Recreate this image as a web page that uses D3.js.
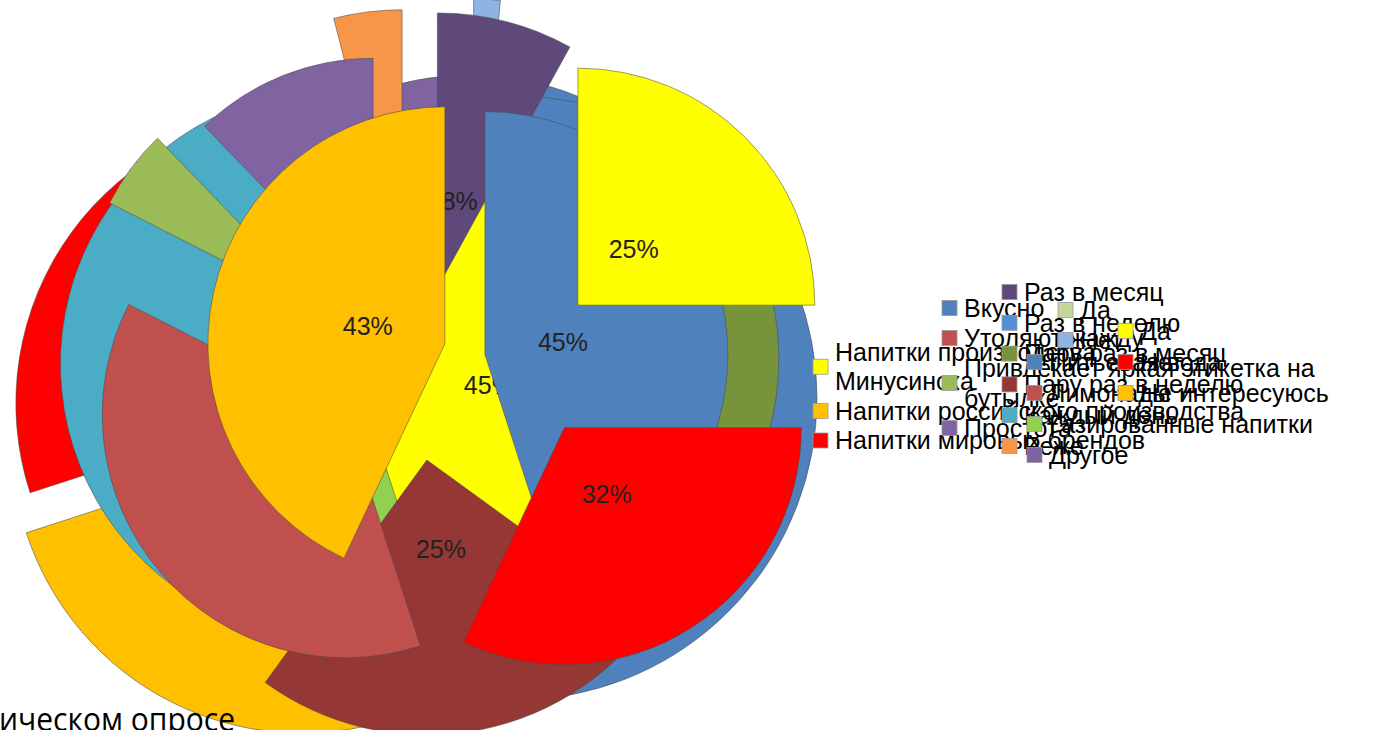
<!DOCTYPE html>
<html lang="ru">
<head>
<meta charset="UTF-8" />
<title>Опрос</title>
<script src="https://d3js.org/d3.v7.min.js"></script>
<style>
  body { margin: 0; background: #fff; overflow: hidden; }
  svg { display: block; }
  .lbl { font-family: "Liberation Sans", Arial, sans-serif; font-size: 25px; fill: #222; }
  .leg { font-family: "Liberation Sans", Arial, sans-serif; font-size: 25px; fill: #000; }
  .foot { font-family: "Open Sans", "DejaVu Sans", sans-serif; font-size: 32px; fill: #000; }
</style>
</head>
<body>
<script>
// --- chart data (pie order, clockwise from 12 o'clock) ---

// Какие напитки покупаете
const drinkNames = ["Напитки производства Минусинска", "Напитки мировых брендов", "Напитки российского производства"];
const drinkValues = [25, 32, 43];
const drinkLabels = ["25%", "32%", "43%"];

// Почему выбираете
const reasonNames = ["Вкусно", "Утоляют жажду", "Привлекает яркая этикетка на бутылке", "Простота"];
const reasonValues = [45, 37.5, 5.3, 12.2];
const reasonLabels = ["45%", "", "", ""];

// Как часто
const freqNames = ["Раз в месяц", "Пару раз в месяц", "Пару раз в неделю", "Каждый день", "Не покупаю"];
const freqValues = [8, 27, 25, 36, 4];
const freqLabels = ["8%", "", "25%", "", ""];

// Да / Нет
const yesNames = ["Да", "Не интересуюсь", "Нет"];
const yesValues = [45, 25, 30];
const yesLabels = ["45%", "", ""];

// charts hidden at the back
const kindNames = ["Питьевая вода", "Газированные напитки", "Лимонады", "Другое"];
const kindValues = [47, 28, 15, 10];
const backNames = ["Нет", "Да", "Газированные напитки", "Другое"];
const backValues = [1.5, 10, 82.5, 6];

// --- legend texts ---
const legDrink = [["Напитки  производства", "Минусинска"], ["Напитки российского производства"], ["Напитки мировых брендов"]];
const legReason = [["Вкусно"], ["Утоляют жажду"], ["Привлекает яркая этикетка на", "бутылке"], ["Простота"]];
const legFreq = [["Раз в месяц"], ["Раз в неделю"], ["Пару раз в месяц"], ["Пару раз в неделю"], ["Каждый день"], ["Реже"]];
const legKind = [["Питьевая вода"], ["Лимонады"], ["Газированные напитки"], ["Другое"]];
const legBack = [["Да"], ["Нет"]];
const legYes = [["Да"], ["Нет"], ["Не интересуюсь"]];

// --- styles ---
const drinkColors = ["#FFFF00", "#FF0000", "#FFC000"];
const reasonColors = ["#4F81BD", "#C0504D", "#9BBB59", "#8064A2"];
const freqColors = ["#5F497A", "#77933C", "#953735", "#4BACC6", "#F79646"];
const yesColors = ["#FFFF00", "#FFC000", "#FF0000"];
const kindColors = ["#4F81BD", "#92D050", "#C0504D", "#8064A2"];
const backColors = ["#8EB4E3", "#4F81BD", "#92D050", "#8064A2"];

const W = 1379, H = 730;
const svg = d3.select("body").append("svg").attr("width", W).attr("height", H);

// back to front
const charts = [
  { names: backNames, values: backValues, colors: backColors, labels: null, cx: 470, cy: 360, r: 285, explode: [76, 0, 0, 0], labelR: 0 },
  { names: kindNames, values: kindValues, colors: kindColors, labels: null, cx: 515, cy: 398, r: 302, explode: [0, 0, 0, 0], labelR: 0 },
  { names: yesNames, values: yesValues, colors: yesColors, labels: yesLabels, cx: 318, cy: 412, r: 290, explode: [48, 35, 15], labelR: 125 },
  { names: freqNames, values: freqValues, colors: freqColors, labels: freqLabels, cx: 414, cy: 379, r: 275, explode: [94, 92, 82, 80, 95], labelR: 90 },
  { names: reasonNames, values: reasonValues, colors: reasonColors, labels: reasonLabels, cx: 400, cy: 368, r: 243, explode: [86, 72, 92, 72], labelR: 79 },
  { names: drinkNames, values: drinkValues, colors: drinkColors, labels: drinkLabels, cx: 522, cy: 361, r: 237, explode: [79, 79, 79], labelR: 79 }
];

function drawPie(c) {
  const rows = c.values.map((v, i) => ({
    value: v, name: c.names[i], color: c.colors[i],
    label: c.labels ? c.labels[i] : "", ex: c.explode[i]
  }));
  const arcs = d3.pie().sort(null).value(d => d.value)(rows);
  const arc = d3.arc().innerRadius(0).outerRadius(c.r);
  const labelArc = d3.arc().innerRadius(c.labelR).outerRadius(c.labelR);
  const shift = d => {
    const a = (d.startAngle + d.endAngle) / 2;
    return [Math.sin(a) * d.data.ex, -Math.cos(a) * d.data.ex];
  };
  const g = svg.append("g").attr("transform", `translate(${c.cx},${c.cy})`);
  g.selectAll("path").data(arcs).join("path")
    .attr("transform", d => `translate(${shift(d)})`)
    .attr("d", arc)
    .attr("fill", d => d.data.color)
    .attr("stroke", "#4a4a4a")
    .attr("stroke-opacity", 0.55)
    .attr("stroke-width", 1);
  g.selectAll("text").data(arcs.filter(d => d.data.label)).join("text")
    .attr("class", "lbl")
    .attr("transform", d => {
      const s = shift(d), p = labelArc.centroid(d);
      return `translate(${s[0] + p[0]},${s[1] + p[1]})`;
    })
    .attr("text-anchor", "middle")
    .attr("dy", "0.35em")
    .text(d => d.data.label);
}

charts.forEach(drawPie);

function drawLegend(items, colors, x, y0, step) {
  const g = svg.append("g");
  let line = 0;
  items.forEach((lines, i) => {
    const yc = y0 + (line + (lines.length - 1) / 2) * step;
    g.append("rect")
      .attr("x", x).attr("y", yc - 7.5)
      .attr("width", 15).attr("height", 15)
      .attr("fill", colors[i])
      .attr("stroke", "#999").attr("stroke-width", 0.8);
    lines.forEach((t, k) => {
      g.append("text").attr("class", "leg")
        .attr("x", x + 22).attr("y", y0 + (line + k) * step)
        .attr("dy", "0.35em")
        .text(t);
    });
    line += lines.length;
  });
}

drawLegend(legDrink, ["#FFFF00", "#FFC000", "#FF0000"], 813, 352, 29.5);
drawLegend(legReason, reasonColors, 942, 308, 30);
drawLegend(legFreq, ["#5F497A", "#558ED5", "#77933C", "#953735", "#4BACC6", "#F79646"], 1002, 292, 30.8);
drawLegend(legKind, ["#4F81BD", "#C0504D", "#92D050", "#7F63A1"], 1027, 362, 31);
drawLegend(legBack, ["#C3D69B", "#8EB4E3"], 1058, 310, 30);
drawLegend(legYes, ["#FFFF00", "#FF0000", "#FFC000"], 1118, 331, 31);

// slide title fragment cut by the bottom edge
svg.append("text").attr("class", "foot")
  .attr("x", -1).attr("y", 731)
  .attr("textLength", 236).attr("lengthAdjust", "spacingAndGlyphs")
  .text("ическом опросе");
</script>
</body>
</html>
